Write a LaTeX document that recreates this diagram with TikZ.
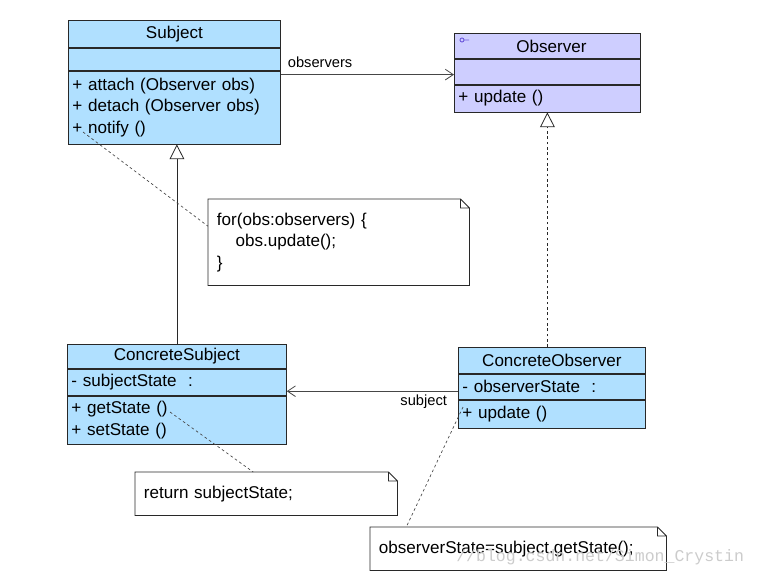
\documentclass[tikz,border=0pt]{standalone}
\usepackage{fontspec}
\setmainfont{Liberation Sans}
\newfontfamily\markfont{Liberation Mono}
\usepackage{tikz}
\usetikzlibrary{arrows.meta,positioning}
\usepackage{xcolor}

\definecolor{clsblue}{RGB}{176,224,255}
\definecolor{ifcviolet}{RGB}{206,206,255}
\definecolor{edgegray}{RGB}{40,40,40}
\definecolor{linegray}{RGB}{70,70,70}
\definecolor{markviolet}{RGB}{110,90,220}

\tikzset{
  umltext/.style={font=\fontsize{12.8}{16}\selectfont, text=black},
  cls/.style={umltext, draw=edgegray, fill=clsblue, line width=0.6pt, inner xsep=3pt, inner ysep=1pt, align=left},
  ifc/.style={cls, fill=ifcviolet},
  note/.style={umltext, fill=white, inner xsep=6.5pt, inner ysep=1pt, align=left, anchor=north west},
  noteline/.style={draw=edgegray, line width=0.6pt},
  assoc/.style={draw=linegray, line width=0.6pt, -{Straight Barb[length=6pt,width=8pt]}},
  gen/.style={draw=edgegray, line width=0.6pt, -{Triangle[open,length=11pt,width=11pt,fill=white]}},
  real/.style={gen, dash pattern={on 2pt off 2pt}},
  notelink/.style={draw=linegray, line width=0.5pt, dash pattern={on 2pt off 2pt}},
  rolelabel/.style={font=\fontsize{11}{13}\selectfont, inner sep=0pt}
}

\begin{document}
\begin{tikzpicture}[x=0.75pt,y=0.75pt,yscale=-1,xscale=1]
\useasboundingbox [fill=white] (0,0) rectangle (757,575);

%Shape: Class [Subject]
\node (subj) [cls, anchor=north west, text width=153pt, minimum height=20.25pt, align=center] at (68,20) {Subject};
\node (subjA) [cls, below=0pt of subj, text width=153pt, minimum height=16.5pt] {};
\node (subjO) [cls, below=0pt of subjA, text width=153pt, minimum height=54.75pt] {+\ attach (Observer obs)\\+\ detach (Observer obs)\\+\ notify ()};

%Shape: Interface [Observer]
\node (obs) [ifc, anchor=north west, text width=133.5pt, minimum height=18.75pt, align=center] at (454,33) {\hspace*{6pt}Observer};
\node (obsA) [ifc, below=0pt of obs, text width=133.5pt, minimum height=18.75pt] {};
\node (obsO) [ifc, below=0pt of obsA, text width=133.5pt, minimum height=20.25pt] {+\ update ()};
\draw [markviolet, line width=0.7pt] (462,40) circle [radius=1.5pt] (464,40) -- (469,40);

%Shape: Class [ConcreteSubject]
\node (csub) [cls, anchor=north west, text width=158.25pt, minimum height=18pt, align=center] at (67,344) {ConcreteSubject};
\node (csubA) [cls, below=0pt of csub, text width=158.25pt, minimum height=19.5pt] {- subjectState\ \ :};
\node (csubO) [cls, below=0pt of csubA, text width=158.25pt, minimum height=36pt] {+\ getState ()\\+\ setState ()};

%Shape: Class [ConcreteObserver]
\node (cobs) [cls, anchor=north west, text width=134.25pt, minimum height=19.5pt, align=center] at (458,347) {ConcreteObserver};
\node (cobsA) [cls, below=0pt of cobs, text width=134.25pt, minimum height=18.75pt] {- observerState\ \ :};
\node (cobsO) [cls, below=0pt of cobsA, text width=134.25pt, minimum height=21pt] {+\ update ()};

% Notes
\node (n1) [note, text width=182.75pt, minimum height=64.5pt] at (208,199) {for(obs:observers) \{\\\hspace*{14pt}obs.update();\\\}};
\node (n2) [note, text width=183.5pt, minimum height=32.25pt] at (135,472) {return subjectState;};
\node (n3) [note, text width=209pt, minimum height=32.25pt] at (370,527) {observerState=subject.getState();};
\foreach \n in {n1,n2,n3}
  \draw [noteline] (\n.north west) -- ([xshift=-6.75pt]\n.north east) -- ([yshift=6.75pt]\n.north east) -- (\n.south east) -- (\n.south west) -- cycle
    ([xshift=-6.75pt]\n.north east) |- ([yshift=6.75pt]\n.north east);

% Associations
\path ([yshift=3pt]subjO.north east) coordinate (obsFrom);
\draw [assoc] (obsFrom) -- (obsFrom -| obs.west) node [rolelabel, pos=0, anchor=base west, xshift=5pt, yshift=5pt] {observers};
\path ([yshift=3.4pt]cobsA.west) coordinate (subjFrom);
\draw [assoc] (subjFrom) -- (subjFrom -| csubA.east) node [rolelabel, pos=0, anchor=base east, xshift=-8pt, yshift=-11pt] {subject};

% Generalization and realization
\draw [gen] (csub.north) -- (csub.north |- subjO.south);
\draw [real] (obsO.south |- cobs.north) -- (obsO.south);

% Note links
\coordinate (nfy) at (83,132);
\coordinate (gst) at (170,412);
\coordinate (upd) at (463,407);
\draw [notelink] (nfy) -- (n1.173);
\draw [notelink] (gst) -- (n2.121);
\draw [notelink] (upd) -- (n3.169);

% Text Node
\node (mark) [anchor=base west, text=black!20, font=\markfont\fontsize{12.4}{14}\selectfont, inner sep=0pt] at (456,561) {//blog.csdn.net/Simon\_Crystin};

\end{tikzpicture}
\end{document}
